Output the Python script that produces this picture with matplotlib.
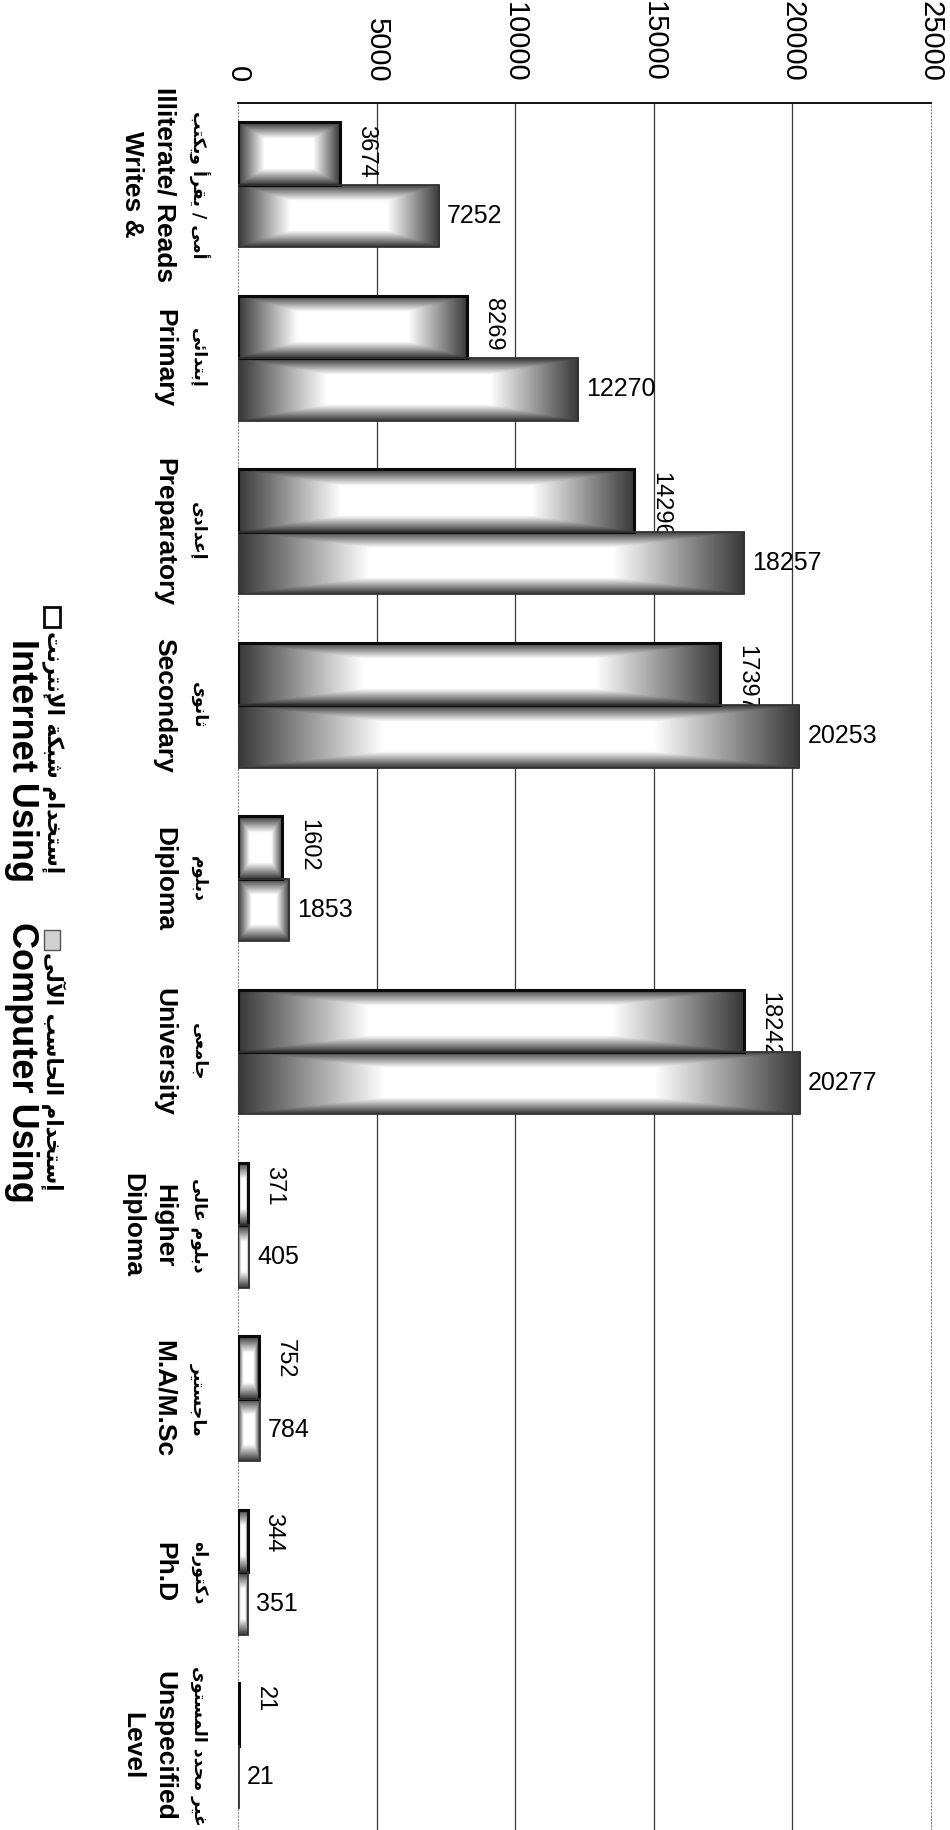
import numpy as np
import matplotlib
matplotlib.use("Agg")
import matplotlib.pyplot as plt
from matplotlib.patches import Rectangle
from matplotlib.transforms import blended_transform_factory

# ---------------- data ----------------
cats_en = [["Illiterate/ Reads", "Writes &"], ["Primary"], ["Preparatory"],
           ["Secondary"], ["Diploma"], ["University"], ["Higher", "Diploma"],
           ["M.A/M.Sc"], ["Ph.D"], ["Unspecified", "Level"]]
cats_ar = ["أمى / يقرأ ويكتب", "إبتدائى", "إعدادى", "ثانوى", "دبلوم", "جامعى",
           "دبلوم عالى", "ماجستير", "دكتوراه", "غير محدد المستوى"]
internet = [3674, 8269, 14296, 17397, 1602, 18242, 371, 752, 344, 21]
computer = [7252, 12270, 18257, 20253, 1853, 20277, 405, 784, 351, 21]
xticks = [0, 5000, 10000, 15000, 20000, 25000]
legend_en = ["Internet Using", "Computer Using"]
legend_ar = ["إستخدام شبكة الإنترنت", "إستخدام الحاسب الآلى"]

# ---------------- minimal Arabic shaping ----------------
_F = {
    'ء': (0xFE80, None, None, None),
    'آ': (0xFE81, 0xFE82, None, None), 'أ': (0xFE83, 0xFE84, None, None),
    'ؤ': (0xFE85, 0xFE86, None, None), 'إ': (0xFE87, 0xFE88, None, None),
    'ئ': (0xFE89, 0xFE8A, 0xFE8B, 0xFE8C), 'ا': (0xFE8D, 0xFE8E, None, None),
    'ب': (0xFE8F, 0xFE90, 0xFE91, 0xFE92), 'ة': (0xFE93, 0xFE94, None, None),
    'ت': (0xFE95, 0xFE96, 0xFE97, 0xFE98), 'ث': (0xFE99, 0xFE9A, 0xFE9B, 0xFE9C),
    'ج': (0xFE9D, 0xFE9E, 0xFE9F, 0xFEA0), 'ح': (0xFEA1, 0xFEA2, 0xFEA3, 0xFEA4),
    'خ': (0xFEA5, 0xFEA6, 0xFEA7, 0xFEA8), 'د': (0xFEA9, 0xFEAA, None, None),
    'ذ': (0xFEAB, 0xFEAC, None, None), 'ر': (0xFEAD, 0xFEAE, None, None),
    'ز': (0xFEAF, 0xFEB0, None, None), 'س': (0xFEB1, 0xFEB2, 0xFEB3, 0xFEB4),
    'ش': (0xFEB5, 0xFEB6, 0xFEB7, 0xFEB8), 'ص': (0xFEB9, 0xFEBA, 0xFEBB, 0xFEBC),
    'ض': (0xFEBD, 0xFEBE, 0xFEBF, 0xFEC0), 'ط': (0xFEC1, 0xFEC2, 0xFEC3, 0xFEC4),
    'ظ': (0xFEC5, 0xFEC6, 0xFEC7, 0xFEC8), 'ع': (0xFEC9, 0xFECA, 0xFECB, 0xFECC),
    'غ': (0xFECD, 0xFECE, 0xFECF, 0xFED0), 'ف': (0xFED1, 0xFED2, 0xFED3, 0xFED4),
    'ق': (0xFED5, 0xFED6, 0xFED7, 0xFED8), 'ك': (0xFED9, 0xFEDA, 0xFEDB, 0xFEDC),
    'ل': (0xFEDD, 0xFEDE, 0xFEDF, 0xFEE0), 'م': (0xFEE1, 0xFEE2, 0xFEE3, 0xFEE4),
    'ن': (0xFEE5, 0xFEE6, 0xFEE7, 0xFEE8), 'ه': (0xFEE9, 0xFEEA, 0xFEEB, 0xFEEC),
    'و': (0xFEED, 0xFEEE, None, None), 'ى': (0xFEEF, 0xFEF0, None, None),
    'ي': (0xFEF1, 0xFEF2, 0xFEF3, 0xFEF4),
}
_LA = {'آ': (0xFEF5, 0xFEF6), 'أ': (0xFEF7, 0xFEF8), 'إ': (0xFEF9, 0xFEFA), 'ا': (0xFEFB, 0xFEFC)}


def shape_ar(s):
    out = []
    n = len(s)
    i = 0
    while i < n:
        c = s[i]
        if c not in _F:
            out.append(c)
            i += 1
            continue
        prev = s[i - 1] if i > 0 else None
        cp = prev is not None and prev in _F and _F[prev][2] is not None
        nxt = s[i + 1] if i + 1 < n else None
        if c == 'ل' and nxt in _LA:
            out.append(chr(_LA[nxt][1] if cp else _LA[nxt][0]))
            i += 2
            continue
        cn = nxt is not None and nxt in _F and _F[c][2] is not None
        iso, fin, ini, med = _F[c]
        if cp and cn:
            code = med
        elif cp:
            code = fin if fin else iso
        elif cn:
            code = ini
        else:
            code = iso
        out.append(chr(code))
        i += 1
    return ''.join(out)[::-1]


# ---------------- figure ----------------
W, H = 950, 1830
fig = plt.figure(figsize=(W / 100, H / 100), dpi=100)
x0_px, x1_px, top_px = 238, 931, 103
ax = fig.add_axes([x0_px / W, 0, (x1_px - x0_px) / W, 1 - top_px / H])
ax.set_xlim(0, 25000)
ax.set_ylim(9.485, -0.471)

LAT = ['Liberation Sans', 'DejaVu Sans']
ARF = ['DejaVu Sans']

ax.xaxis.tick_top()
ax.set_xticks(xticks)
ax.set_xticklabels([str(t) for t in xticks], rotation=-90, fontsize=21,
                   family=LAT)
ax.tick_params(axis='x', length=0, pad=15)
ax.set_yticks([])
for t in xticks[1:-1]:
    ax.axvline(t, color='#3a3a3a', lw=0.9, zorder=1)
ax.spines['top'].set_linewidth(1.4)
ax.spines['top'].set_color('#111111')
for s in ['left', 'right']:
    ax.spines[s].set_linestyle((0, (1, 2)))
    ax.spines[s].set_color('#888888')
    ax.spines[s].set_linewidth(0.8)
ax.spines['bottom'].set_visible(False)

# ---------------- bars ----------------
y = np.arange(len(cats_en))
bh = 0.36
b_int = ax.barh(y - bh / 2, internet, height=bh, facecolor='none',
                edgecolor='#0a0a0a', linewidth=2.2, zorder=4)
b_com = ax.barh(y + bh / 2, computer, height=bh, facecolor='none',
                edgecolor='#333333', linewidth=1.3, zorder=4)


def grad(nx=300, ny=60, dark=0.78):
    u = np.linspace(-1, 1, nx)
    v = np.linspace(-1, 1, ny)
    U, V = np.meshgrid(u, v)
    t = np.maximum(np.abs(U), np.abs(V))
    return 1 - dark * np.clip((t - 0.48) / 0.52, 0, 1) ** 1.0


G = grad()
for bars in (b_int, b_com):
    for b in bars:
        bx, by, bw, bhh = b.get_x(), b.get_y(), b.get_width(), b.get_height()
        im = ax.imshow(G, extent=(bx, bx + bw, by, by + bhh), cmap='gray',
                       vmin=0, vmax=1, aspect='auto', interpolation='bilinear',
                       zorder=3)
        im.set_clip_path(b)
ax.set_xlim(0, 25000)
ax.set_ylim(9.485, -0.471)

# ---------------- value labels ----------------
px = 25000 / (x1_px - x0_px)
for b, v in zip(b_int, internet):
    ax.text(v + 15 * px, b.get_y() + 0.015, str(v), rotation=-90, ha='left',
            va='top', fontsize=17, family=LAT, zorder=2)
for b, v in zip(b_com, computer):
    ax.text(v + 8 * px, b.get_y() + b.get_height() / 2, str(v), ha='left',
            va='center', fontsize=18, family=LAT, zorder=5)

# ---------------- category labels ----------------
tr = blended_transform_factory(fig.transFigure, ax.transData)
ar_x, en_x0, en_dx = 199, 164, 32
for i, (en, ar) in enumerate(zip(cats_en, cats_ar)):
    fig.text(ar_x / W, i, shape_ar(ar), transform=tr, rotation=-90,
             ha='center', va='center', fontsize=12.5, fontweight='bold',
             family=ARF)
    for k, line in enumerate(en):
        fig.text((en_x0 - en_dx * k) / W, i, line, transform=tr,
                 rotation=-90, ha='center', va='center', fontsize=19,
                 fontweight='bold', family=LAT)

# ---------------- legend ----------------
leg_box_y = [617, 940]
leg_ar_top = [631, 952]
leg_en_y = [761, 1062]
box_fc = ['white', '#d0d0d0']
box_ec = ['#0a0a0a', '#555555']
box_lw = [2.0, 1.0]
for k in range(2):
    fig.patches.append(Rectangle(((52 - 8) / W, 1 - (leg_box_y[k] + 10) / H),
                                 16 / W, 20 / H, transform=fig.transFigure,
                                 facecolor=box_fc[k], edgecolor=box_ec[k],
                                 linewidth=box_lw[k]))
    fig.text(53 / W, 1 - leg_ar_top[k] / H, shape_ar(legend_ar[k]),
             rotation=-90, ha='center', va='top', fontsize=15.5,
             fontweight='bold', family=ARF)
    fig.text(21 / W, 1 - leg_en_y[k] / H, legend_en[k], rotation=-90,
             ha='center', va='center', fontsize=26, fontweight='bold',
             family=LAT)

fig.savefig('out.png', dpi=100, facecolor='white')
